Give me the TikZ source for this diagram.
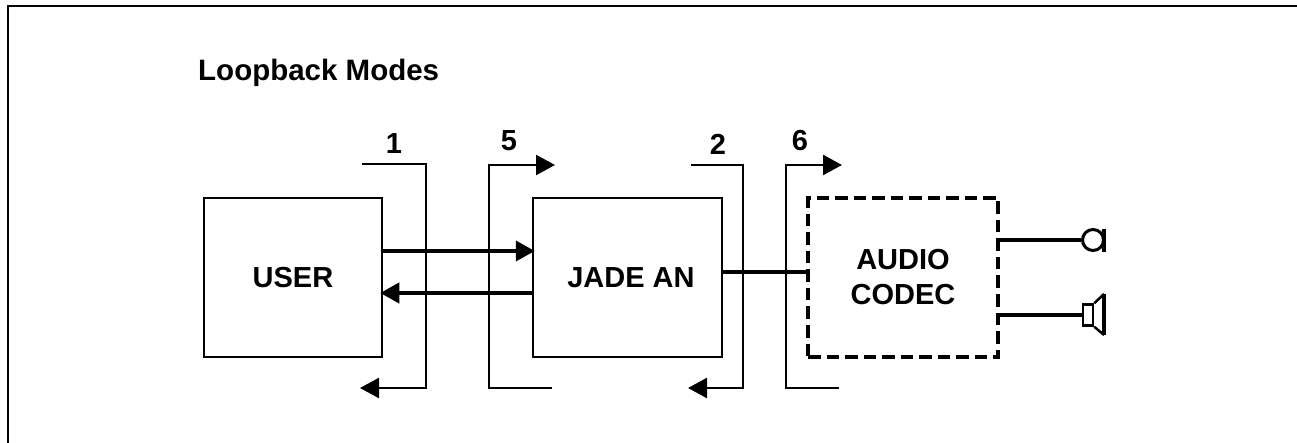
\documentclass[tikz,border=0pt]{standalone}
\usepackage{fontspec}
\setmainfont{Liberation Sans}
\usetikzlibrary{arrows.meta}
\tikzset{
  x=1pt,y=-1pt,
  thin line/.style={line width=2.5pt},
  thick line/.style={line width=4pt},
  solid box/.style={draw,line width=2.5pt,inner sep=0pt,font=\bfseries\fontsize{29}{35}\selectfont,align=center},
  dash box/.style={solid box,line width=3.6pt,dash pattern=on 12.5pt off 6pt},
  tip/.style={-{Triangle[length=19pt,width=20pt]}},
  label text/.style={inner sep=0pt,font=\bfseries\fontsize{29}{34}\selectfont},
}
\begin{document}
\begin{tikzpicture}
\useasboundingbox (0,0) rectangle (1297,443);
\coordinate (fa) at (8,443);
\coordinate (fb) at (8,6);
\coordinate (fc) at (1297,6);
\draw[line width=2.4pt] (fa) -- (fb) -- (fc);
\node[label text,font=\bfseries\fontsize{29.5}{34}\selectfont,anchor=base west] (title) at (198,80.5) {Loopback Modes};
\node[solid box,minimum width=178pt,minimum height=159pt] (user) at (293,277.5) {USER};
\node[solid box,minimum width=189pt,minimum height=159pt] (jade) at (627.5,277.5) {\hspace*{7pt}JADE AN};
\node[dash box,minimum width=190pt,minimum height=159pt] (codec) at (903,277.5) {AUDIO\\CODEC};
% loop 1
\coordinate (a1) at (362,164);\coordinate (a2) at (426,164);\coordinate (a3) at (426,388);\coordinate (a4) at (360,388);
\draw[thin line,tip] (a1) -- (a2) -- (a3) -- (a4);
\node[label text,anchor=base] (n1) at (394,154) {1};
% loop 5
\coordinate (b1) at (552,388);\coordinate (b2) at (489,388);\coordinate (b3) at (489,165);\coordinate (b4) at (555,165);
\draw[thin line,tip] (b1) -- (b2) -- (b3) -- (b4);
\node[label text,anchor=base] (n5) at (509,151) {5};
% loop 2
\coordinate (c1) at (691,165);\coordinate (c2) at (743,165);\coordinate (c3) at (743,388);\coordinate (c4) at (688,388);
\draw[thin line,tip] (c1) -- (c2) -- (c3) -- (c4);
\node[label text,anchor=base] (n2) at (718,155) {2};
% loop 6
\coordinate (d1) at (839,388);\coordinate (d2) at (786,388);\coordinate (d3) at (786,165);\coordinate (d4) at (842,165);
\draw[thin line,tip] (d1) -- (d2) -- (d3) -- (d4);
\node[label text,anchor=base] (n6) at (800,151) {6};
% links
\draw[thick line,tip,shorten >=-3pt] (user.east |- 0,251) -- (jade.west |- 0,251);
\draw[thick line,tip,shorten >=-3pt] (jade.west |- 0,293) -- (user.east |- 0,293);
\draw[thick line] (jade.east |- 0,272) -- (codec.west |- 0,272);
% microphone
\node[draw,circle,line width=3pt,minimum size=21pt,inner sep=0pt] (mic) at (1093,240) {};
\draw[thick line] (codec.east |- 0,240) -- (mic.west);
\coordinate (m1) at (1104,229);\coordinate (m2) at (1104,252);
\draw[line width=3.6pt] (m1) -- (m2);
% speaker
\node[draw,line width=2.5pt,minimum width=10pt,minimum height=21pt,inner sep=0pt] (spk) at (1088,315) {};
\draw[thick line] (codec.east |- 0,315) -- (spk.west);
\coordinate (s1) at (1104,294);\coordinate (s2) at (1104,335);
\draw[line width=2.5pt] (spk.north east) -- (s1);
\draw[line width=2.5pt] (spk.south east) -- (s2);
\draw[line width=3.6pt] (s1) -- (s2);
\end{tikzpicture}
\end{document}
